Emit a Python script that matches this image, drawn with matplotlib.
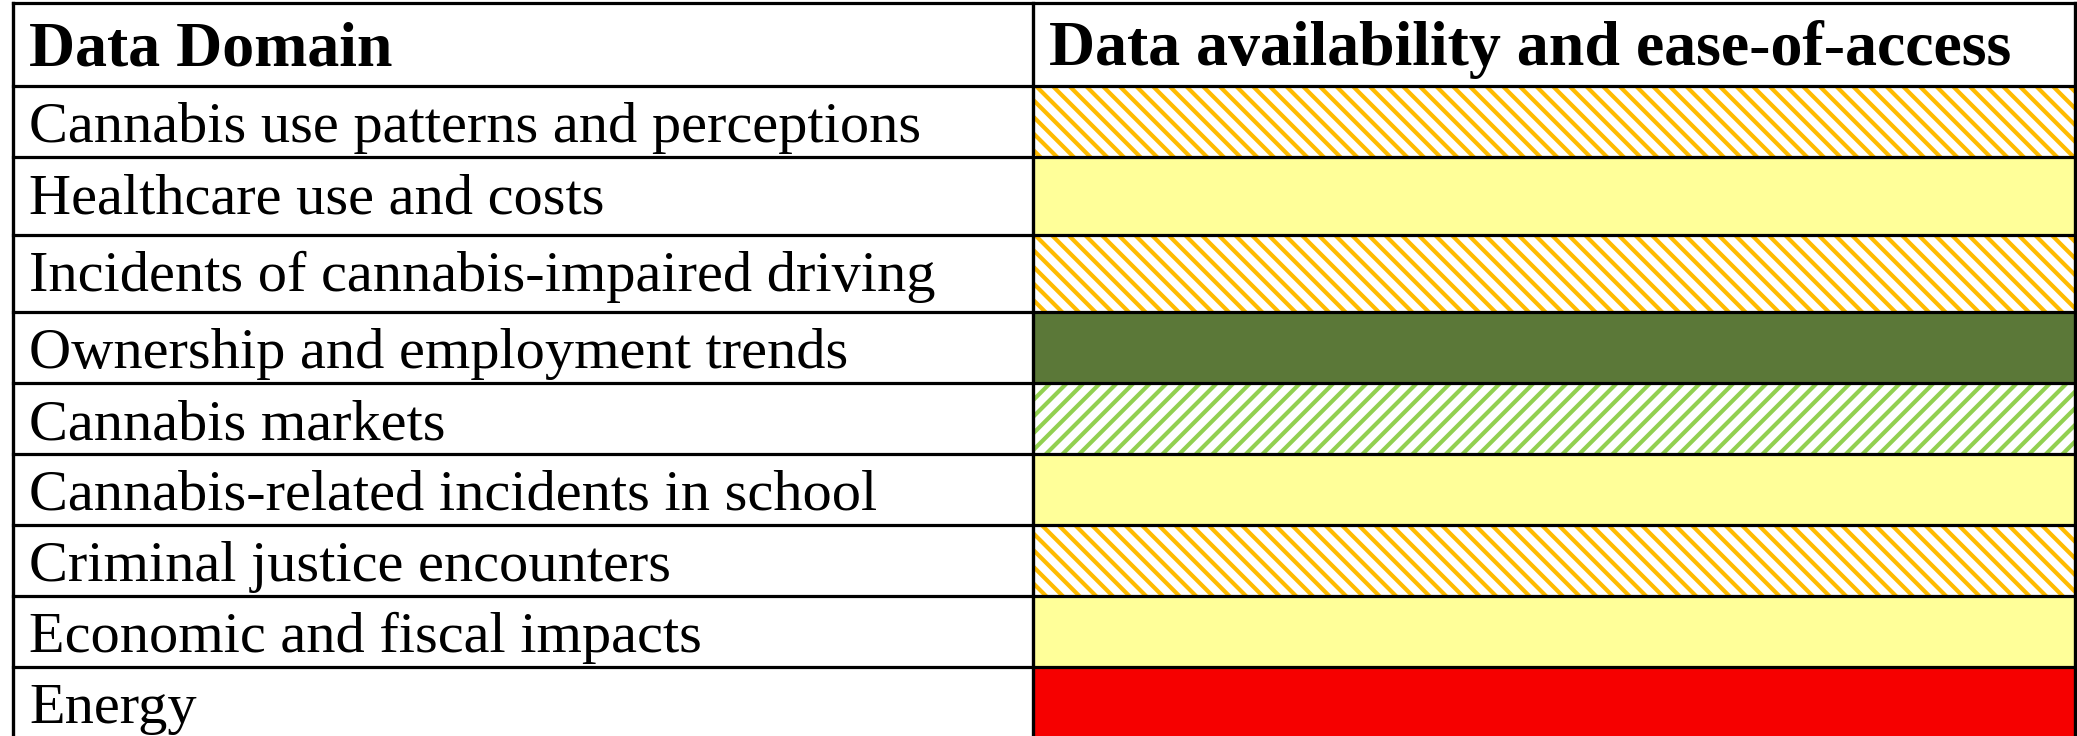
import matplotlib.pyplot as plt
from matplotlib.patches import Rectangle

plt.rcParams['hatch.linewidth'] = 3.0

headers = ["Data Domain", "Data availability and ease-of-access"]
domains = [
    "Cannabis use patterns and perceptions",
    "Healthcare use and costs",
    "Incidents of cannabis-impaired driving",
    "Ownership and employment trends",
    "Cannabis markets",
    "Cannabis-related incidents in school",
    "Criminal justice encounters",
    "Economic and fiscal impacts",
    "Energy",
]
# availability rating of each domain, as coded by the cell shading
ratings = ["limited", "moderate", "limited", "high", "good",
           "moderate", "limited", "moderate", "none"]

# fill colour, hatch
styles = {
    "high":     ("#5b7838", None),
    "good":     ("#92d050", "//"),
    "moderate": ("#ffff99", None),
    "limited":  ("#ffbb00", "\\\\"),
    "none":     ("#f60000", None),
}

# layout in pixels
W, H = 2077, 736
left, mid, right = 13, 1033, 2075
top = 3
row_h = [83, 71, 78, 77, 71, 71, 71, 71, 71, 90]

fig = plt.figure(figsize=(W / 100, H / 100), dpi=100)
ax = fig.add_axes([0, 0, 1, 1])
ax.set_xlim(0, W)
ax.set_ylim(H, 0)
ax.axis('off')

edges = [top]
for h in row_h:
    edges.append(edges[-1] + h)

font = 'Liberation Serif'

# header
ax.text(left + 16, top + 62, headers[0], fontsize=46, fontweight='bold',
        family=font, va='baseline')
ax.text(mid + 16, top + 62, headers[1], fontsize=46, fontweight='bold',
        family=font, va='baseline')

for i, (name, r) in enumerate(zip(domains, ratings)):
    y0, y1 = edges[i + 1], edges[i + 2]
    color, hatch = styles[r]
    if hatch is None:
        ax.add_patch(Rectangle((mid, y0), right - mid, y1 - y0,
                               facecolor=color, edgecolor='none', lw=0))
    else:
        ax.add_patch(Rectangle((mid, y0), right - mid, y1 - y0,
                               facecolor='white', edgecolor=color,
                               hatch=hatch, lw=0))
    ax.text(left + 16, y0 + 56, name, fontsize=42, family=font,
            va='baseline')

# grid lines
for y in edges[:-1]:
    ax.plot([left, right], [y, y], color='black', lw=2.3,
            solid_capstyle='projecting')
for x in (left, mid, right):
    ax.plot([x, x], [top, H], color='black', lw=2.4)

fig.savefig('out.png', dpi=100)
